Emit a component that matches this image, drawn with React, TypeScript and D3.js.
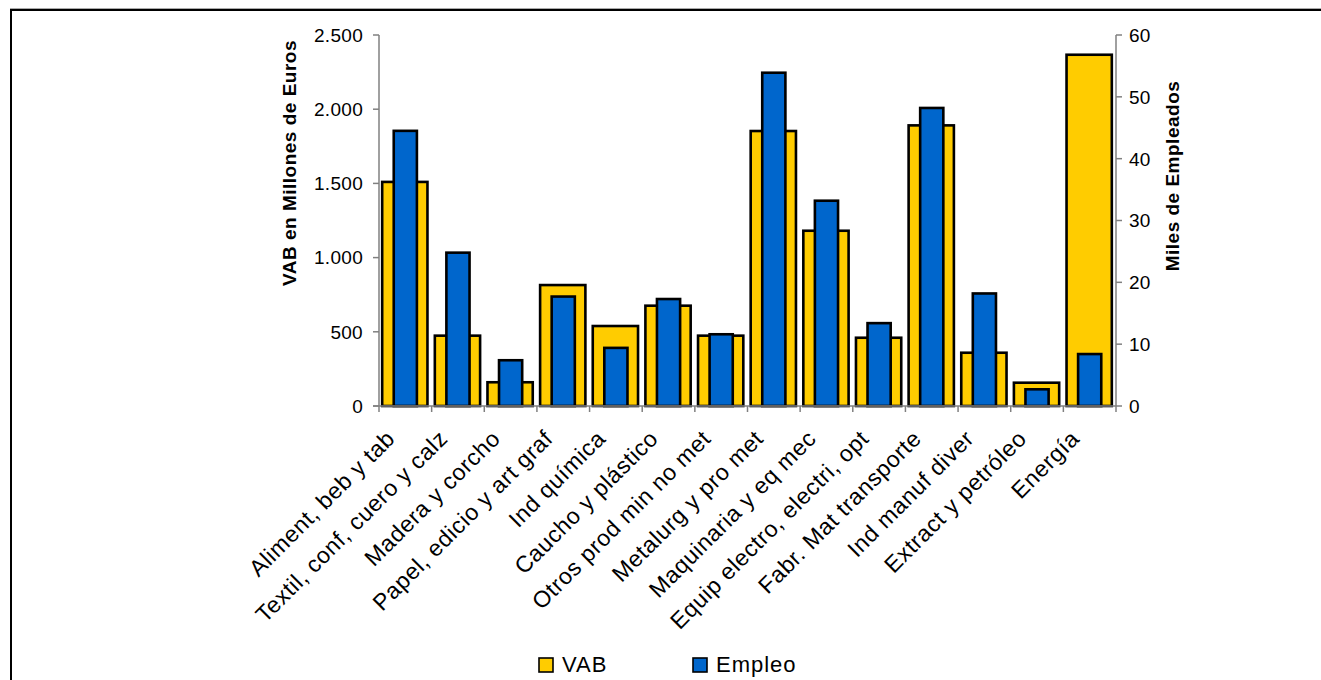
import React from "react";
import * as d3 from "d3";

const categories: string[] = [
  "Aliment, beb y tab",
  "Textil, conf, cuero y calz",
  "Madera y corcho",
  "Papel, edicio y art graf",
  "Ind química",
  "Caucho y plástico",
  "Otros prod min no met",
  "Metalurg y pro met",
  "Maquinaria y eq mec",
  "Equip electro, electri, opt",
  "Fabr. Mat transporte",
  "Ind manuf diver",
  "Extract y petróleo",
  "Energía",
];

const vab: number[] = [1510, 474, 160, 815, 539, 676, 474, 1853, 1181, 460, 1891, 359, 157, 2367];
const empleo: number[] = [44.5, 24.8, 7.4, 17.7, 9.4, 17.3, 11.6, 53.9, 33.2, 13.4, 48.2, 18.2, 2.7, 8.4];

const leftTicks: number[] = [0, 500, 1000, 1500, 2000, 2500];
const rightTicks: number[] = [0, 10, 20, 30, 40, 50, 60];

const seriesNames: string[] = ["VAB", "Empleo"];

const W = 1321;
const H = 680;
const plotLeft = 379;
const plotRight = 1116;
const plotTop = 35;
const plotBottom = 406;

const YELLOW = "#FFCC00";
const BLUE = "#0066CC";
const AXIS = "#808080";
const FONT = "Arial, 'Liberation Sans', sans-serif";

const fmt = (v: number) => d3.format(",")(v).replace(/,/g, ".");

export default function App() {
  const x = d3.scaleBand<string>().domain(categories).range([plotLeft, plotRight]).padding(0);
  const yL = d3.scaleLinear().domain([0, 2500]).range([plotBottom, plotTop]);
  const yR = d3.scaleLinear().domain([0, 60]).range([plotBottom, plotTop]);
  const bw = x.bandwidth();
  const yW = bw * 0.86;
  const bW = bw * 0.44;

  const boundaries = d3.range(categories.length + 1).map((i) => plotLeft + i * x.step());

  return (
    <svg
      width={W}
      height={H}
      style={{ position: "absolute", left: 0, top: 0, background: "#fff" }}
      fontFamily={FONT}
    >
      {/* frame */}
      <line x1={10} x2={W} y1={8.5} y2={8.5} stroke="#aaa" strokeWidth={1} />
      <line x1={10} x2={W} y1={10} y2={10} stroke="#000" strokeWidth={2} />
      <line x1={11} x2={11} y1={9} y2={H} stroke="#000" strokeWidth={2} />

      {/* bars */}
      {categories.map((c, i) => {
        const cx = (x(c) as number) + bw / 2;
        return (
          <g key={c}>
            <rect
              x={cx - yW / 2 - 0.5}
              y={yL(vab[i])}
              width={yW}
              height={plotBottom - yL(vab[i])}
              fill={YELLOW}
              stroke="#000"
              strokeWidth={2.6}
            />
            <rect
              x={cx - bW / 2}
              y={yR(empleo[i])}
              width={bW}
              height={plotBottom - yR(empleo[i])}
              fill={BLUE}
              stroke="#000"
              strokeWidth={2.6}
            />
          </g>
        );
      })}

      {/* left axis */}
      <line x1={plotLeft} x2={plotLeft} y1={plotTop} y2={plotBottom} stroke={AXIS} strokeWidth={1.5} />
      {leftTicks.map((t) => (
        <g key={"l" + t}>
          <line x1={plotLeft - 6} x2={plotLeft} y1={yL(t)} y2={yL(t)} stroke={AXIS} strokeWidth={1.5} />
          <text x={363} y={yL(t)} dy="0.36em" textAnchor="end" fontSize={19} letterSpacing={0.3} fill="#000">
            {fmt(t)}
          </text>
        </g>
      ))}

      {/* right axis */}
      <line x1={plotRight} x2={plotRight} y1={plotTop} y2={plotBottom} stroke={AXIS} strokeWidth={1.5} />
      {rightTicks.map((t) => (
        <g key={"r" + t}>
          <line x1={plotRight} x2={plotRight + 6} y1={yR(t)} y2={yR(t)} stroke={AXIS} strokeWidth={1.5} />
          <text x={1129} y={yR(t)} dy="0.36em" textAnchor="start" fontSize={19} letterSpacing={0.3} fill="#000">
            {t}
          </text>
        </g>
      ))}

      {/* bottom axis */}
      <line x1={plotLeft - 6} x2={plotRight} y1={plotBottom} y2={plotBottom} stroke={AXIS} strokeWidth={1.5} />
      {boundaries.map((bx, i) => (
        <line key={"b" + i} x1={bx} x2={bx} y1={plotBottom} y2={plotBottom + 6} stroke={AXIS} strokeWidth={1.5} />
      ))}

      {/* category labels */}
      {categories.map((c) => {
        const cx = (x(c) as number) + bw / 2;
        return (
          <text
            key={"t" + c}
            transform={`translate(${cx - 9},${440}) rotate(-45)`}
            textAnchor="end"
            fontSize={23}
            letterSpacing={0.6}
            fill="#000"
          >
            {c}
          </text>
        );
      })}

      {/* axis titles */}
      <text
        transform={`translate(296,163) rotate(-90)`}
        textAnchor="middle"
        fontSize={19}
        fontWeight="bold"
        letterSpacing={0.5}
      >
        VAB en Millones de Euros
      </text>
      <text
        transform={`translate(1179,176) rotate(-90)`}
        textAnchor="middle"
        fontSize={19}
        fontWeight="bold"
        letterSpacing={0.5}
      >
        Miles de Empleados
      </text>

      {/* legend */}
      {seriesNames.map((s, i) => {
        const lx = 539 + i * 154;
        return (
          <g key={"lg" + s}>
            <rect x={lx} y={658} width={14} height={14} fill={i === 0 ? YELLOW : BLUE} stroke="#000" strokeWidth={1.6} />
            <text x={lx + 23} y={672} fontSize={22} letterSpacing={1} fill="#000">
              {s}
            </text>
          </g>
        );
      })}
    </svg>
  );
}
